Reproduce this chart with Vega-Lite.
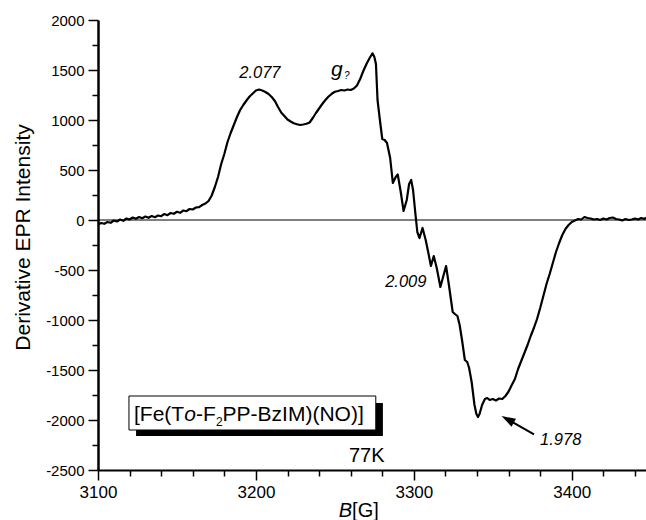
{
  "$schema": "https://vega.github.io/schema/vega-lite/v6.json",
  "width": 548,
  "height": 450,
  "autosize": {"type": "none"},
  "padding": {"left": 98, "top": 20, "right": 0, "bottom": 50},
  "config": {
    "view": {"stroke": null},
    "font": "Liberation Sans",
    "text": {"font": "Liberation Sans", "color": "black"}
  },
  "datasets": {
    "spectrum": [
      {"B":3100,"I":-45},{"B":3102,"I":-30},{"B":3104,"I":-38},{"B":3106,"I":-20},{"B":3108,"I":-28},
      {"B":3110,"I":-5},{"B":3112,"I":-15},{"B":3114,"I":5},{"B":3116,"I":-8},{"B":3118,"I":15},
      {"B":3120,"I":5},{"B":3122,"I":25},{"B":3124,"I":12},{"B":3126,"I":30},{"B":3128,"I":18},
      {"B":3130,"I":35},{"B":3132,"I":22},{"B":3134,"I":40},{"B":3136,"I":28},{"B":3138,"I":45},
      {"B":3140,"I":38},{"B":3142,"I":60},{"B":3144,"I":48},{"B":3146,"I":70},{"B":3148,"I":62},
      {"B":3150,"I":82},{"B":3152,"I":72},{"B":3154,"I":95},{"B":3156,"I":88},{"B":3158,"I":110},
      {"B":3160,"I":105},{"B":3162,"I":125},{"B":3164,"I":128},{"B":3166,"I":150},{"B":3168,"I":165},
      {"B":3170,"I":190},{"B":3172,"I":245},{"B":3174,"I":330},{"B":3176,"I":430},{"B":3178,"I":560},
      {"B":3180,"I":660},{"B":3182,"I":780},{"B":3184,"I":870},{"B":3186,"I":950},{"B":3188,"I":1030},
      {"B":3190,"I":1100},{"B":3192,"I":1150},{"B":3194,"I":1195},{"B":3196,"I":1235},{"B":3198,"I":1265},
      {"B":3200,"I":1295},{"B":3202,"I":1305},{"B":3204,"I":1295},{"B":3206,"I":1280},{"B":3208,"I":1260},
      {"B":3210,"I":1230},{"B":3212,"I":1190},{"B":3214,"I":1130},{"B":3216,"I":1075},{"B":3218,"I":1040},
      {"B":3220,"I":1005},{"B":3222,"I":985},{"B":3224,"I":968},{"B":3226,"I":958},{"B":3228,"I":950},
      {"B":3230,"I":955},{"B":3232,"I":962},{"B":3234,"I":975},{"B":3236,"I":1020},{"B":3238,"I":1070},
      {"B":3240,"I":1115},{"B":3242,"I":1160},{"B":3244,"I":1200},{"B":3246,"I":1235},{"B":3248,"I":1262},
      {"B":3250,"I":1282},{"B":3252,"I":1290},{"B":3254,"I":1300},{"B":3256,"I":1295},{"B":3258,"I":1305},
      {"B":3260,"I":1300},{"B":3262,"I":1315},{"B":3264,"I":1345},{"B":3266,"I":1410},{"B":3268,"I":1490},
      {"B":3270,"I":1560},{"B":3272,"I":1620},{"B":3273.8,"I":1667},{"B":3275,"I":1630},{"B":3276,"I":1560},
      {"B":3277,"I":1200},{"B":3278.5,"I":1000},{"B":3280,"I":810},{"B":3281.5,"I":800},{"B":3283,"I":770},
      {"B":3285,"I":620},{"B":3286.7,"I":370},{"B":3288.5,"I":430},{"B":3289.8,"I":455},{"B":3291.5,"I":300},
      {"B":3293.5,"I":90},{"B":3295.5,"I":200},{"B":3297,"I":360},{"B":3298.3,"I":400},{"B":3299.5,"I":300},
      {"B":3301,"I":60},{"B":3302.2,"I":-120},{"B":3303.6,"I":-180},{"B":3305.5,"I":-80},{"B":3307.5,"I":-200},
      {"B":3309.2,"I":-330},{"B":3310.8,"I":-460},{"B":3312.6,"I":-360},{"B":3314.5,"I":-480},{"B":3316.8,"I":-670},
      {"B":3318.5,"I":-570},{"B":3320.4,"I":-460},{"B":3322.2,"I":-650},{"B":3324.6,"I":-920},{"B":3326,"I":-940},
      {"B":3327.6,"I":-960},{"B":3329,"I":-1050},{"B":3330.5,"I":-1200},{"B":3332.3,"I":-1400},{"B":3333.8,"I":-1420},
      {"B":3335,"I":-1480},{"B":3336.6,"I":-1620},{"B":3338.4,"I":-1850},{"B":3339.6,"I":-1940},{"B":3340.6,"I":-1970},
      {"B":3341.6,"I":-1940},{"B":3343.2,"I":-1850},{"B":3345,"I":-1790},{"B":3346.5,"I":-1780},{"B":3348,"I":-1800},
      {"B":3350,"I":-1790},{"B":3352,"I":-1805},{"B":3354,"I":-1785},{"B":3356,"I":-1790},{"B":3358,"I":-1760},
      {"B":3360,"I":-1715},{"B":3362,"I":-1650},{"B":3364,"I":-1590},{"B":3366,"I":-1490},{"B":3368,"I":-1410},
      {"B":3370,"I":-1330},{"B":3372,"I":-1250},{"B":3374,"I":-1160},{"B":3376,"I":-1080},{"B":3378,"I":-990},
      {"B":3380,"I":-880},{"B":3382,"I":-760},{"B":3384,"I":-640},{"B":3386,"I":-540},{"B":3388,"I":-430},
      {"B":3390,"I":-320},{"B":3392,"I":-230},{"B":3394,"I":-150},{"B":3396,"I":-90},{"B":3398,"I":-50},
      {"B":3400,"I":-20},{"B":3402,"I":-5},{"B":3404,"I":10},{"B":3406,"I":5},{"B":3408,"I":30},
      {"B":3410,"I":20},{"B":3412,"I":15},{"B":3414,"I":5},{"B":3416,"I":10},{"B":3418,"I":0},
      {"B":3420,"I":15},{"B":3422,"I":5},{"B":3424,"I":20},{"B":3426,"I":25},{"B":3428,"I":10},
      {"B":3430,"I":5},{"B":3432,"I":-5},{"B":3434,"I":10},{"B":3436,"I":0},{"B":3438,"I":5},
      {"B":3440,"I":15},{"B":3442,"I":5},{"B":3444,"I":20},{"B":3446,"I":10},{"B":3447,"I":25}
    ]
  },
  "encoding": {
    "x": {
      "field": "B", "type": "quantitative",
      "scale": {"domain": [3100, 3447], "nice": false, "zero": false},
      "axis": {
        "title": null,
        "values": [3100,3120,3140,3160,3180,3200,3220,3240,3260,3280,3300,3320,3340,3360,3380,3400,3420,3440],
        "labelExpr": "datum.value % 100 === 0 ? datum.label : ''",
        "format": "d",
        "grid": false,
        "labelFlush": false,
        "labelFont": "Liberation Sans",
        "labelFontSize": 17,
        "labelColor": "black",
        "labelPadding": 4,
        "domainColor": "black",
        "domainWidth": 2,
        "tickColor": "black",
        "tickWidth": 1.5,
        "tickSize": {"condition": {"test": "datum.value % 100 === 0", "value": 10}, "value": 6}
      }
    },
    "y": {
      "field": "I", "type": "quantitative",
      "scale": {"domain": [-2500, 2000], "nice": false, "zero": false},
      "axis": {
        "title": "Derivative EPR Intensity",
        "titleFont": "Liberation Sans",
        "titleFontSize": 21,
        "titleFontWeight": "normal",
        "titleColor": "black",
        "titleAngle": 270,
        "titleBaseline": "bottom",
        "titleAlign": "center",
        "titleX": -65,
        "titleY": 217,
        "values": [-2500,-2250,-2000,-1750,-1500,-1250,-1000,-750,-500,-250,0,250,500,750,1000,1250,1500,1750,2000],
        "labelExpr": "datum.value % 500 === 0 ? replace(datum.label, '\u2212', '-') : ''",
        "format": "d",
        "grid": false,
        "labelFlush": false,
        "labelFont": "Liberation Sans",
        "labelFontSize": 15,
        "labelColor": "black",
        "labelPadding": 4,
        "domainColor": "black",
        "domainWidth": 2.5,
        "tickColor": "black",
        "tickWidth": 1.5,
        "tickSize": {"condition": {"test": "datum.value % 500 === 0", "value": 10}, "value": 6}
      }
    }
  },
  "layer": [
    {
      "data": {"values": [{"B": 3100, "B2": 3447, "I": 0}]},
      "mark": {"type": "rule", "color": "black", "strokeWidth": 1},
      "encoding": {"x2": {"field": "B2"}}
    },
    {
      "data": {"name": "spectrum"},
      "mark": {"type": "line", "color": "black", "strokeWidth": 2.2, "strokeJoin": "round"},
      "encoding": {}
    },
    {
      "data": {"values": [{"B": 3124.1, "B2": 3280.4, "I": -1830, "I2": -2160}]},
      "mark": {"type": "rect", "color": "black"},
      "encoding": {"x2": {"field": "B2"}, "y2": {"field": "I2"}}
    },
    {
      "data": {"values": [{"B": 3119.6, "B2": 3275.9, "I": -1760, "I2": -2100}]},
      "mark": {"type": "rect", "fill": "white", "stroke": "black", "strokeWidth": 1},
      "encoding": {"x2": {"field": "B2"}, "y2": {"field": "I2"}}
    },
    {
      "data": {"values": [{"B": 3122.8, "I": -2007, "t": "[Fe(T"}]},
      "mark": {"type": "text", "align": "left", "baseline": "alphabetic", "fontSize": 21},
      "encoding": {"text": {"field": "t"}}
    },
    {
      "data": {"values": [{"B": 3122.8, "I": -2007, "t": "o"}]},
      "mark": {"type": "text", "align": "left", "baseline": "alphabetic", "fontSize": 21, "fontStyle": "italic", "dx": 50.2},
      "encoding": {"text": {"field": "t"}}
    },
    {
      "data": {"values": [{"B": 3122.8, "I": -2007, "t": "-F"}]},
      "mark": {"type": "text", "align": "left", "baseline": "alphabetic", "fontSize": 21, "dx": 61.9},
      "encoding": {"text": {"field": "t"}}
    },
    {
      "data": {"values": [{"B": 3122.8, "I": -2007, "t": "2"}]},
      "mark": {"type": "text", "align": "left", "baseline": "alphabetic", "fontSize": 12, "dx": 82, "dy": 5},
      "encoding": {"text": {"field": "t"}}
    },
    {
      "data": {"values": [{"B": 3122.8, "I": -2007, "t": "PP-BzIM)(NO)]"}]},
      "mark": {"type": "text", "align": "left", "baseline": "alphabetic", "fontSize": 21, "dx": 88.6},
      "encoding": {"text": {"field": "t"}}
    },
    {
      "data": {"values": [{"B": 3258.9, "I": -2420, "t": "77K"}, {"B": 3260.9, "I": -2970, "t": "[G]"}]},
      "mark": {"type": "text", "align": "left", "baseline": "alphabetic", "fontSize": 20},
      "encoding": {"text": {"field": "t"}}
    },
    {
      "data": {"values": [{"B": 3252.5, "I": -2970, "t": "B"}]},
      "mark": {"type": "text", "align": "left", "baseline": "alphabetic", "fontSize": 20, "fontStyle": "italic"},
      "encoding": {"text": {"field": "t"}}
    },
    {
      "data": {"values": [
        {"B": 3202.5, "I": 1420, "t": "2.077"},
        {"B": 3294.9, "I": -673, "t": "2.009"},
        {"B": 3393, "I": -2250, "t": "1.978"}
      ]},
      "mark": {"type": "text", "align": "center", "baseline": "alphabetic", "fontSize": 16.5, "fontStyle": "italic"},
      "encoding": {"text": {"field": "t"}}
    },
    {
      "data": {"values": [{"B": 3247.5, "I": 1440, "t": "g"}]},
      "mark": {"type": "text", "align": "left", "baseline": "alphabetic", "fontSize": 21, "fontStyle": "italic"},
      "encoding": {"text": {"field": "t"}}
    },
    {
      "data": {"values": [{"B": 3255.7, "I": 1410, "t": "?"}]},
      "mark": {"type": "text", "align": "left", "baseline": "alphabetic", "fontSize": 10, "fontStyle": "italic"},
      "encoding": {"text": {"field": "t"}}
    },
    {
      "data": {"values": [{"B": 3376.1, "I": -2143, "B2": 3359.4, "I2": -1994}]},
      "mark": {"type": "rule", "color": "black", "strokeWidth": 2},
      "encoding": {"x2": {"field": "B2"}, "y2": {"field": "I2"}}
    },
    {
      "data": {"values": [{"B": 3359.4, "I": -1994}]},
      "mark": {"type": "point", "shape": "M0,-1L0.65,1L-0.65,1Z", "filled": true, "color": "black", "opacity": 1, "size": 196, "angle": 299},
      "encoding": {}
    }
  ]
}
